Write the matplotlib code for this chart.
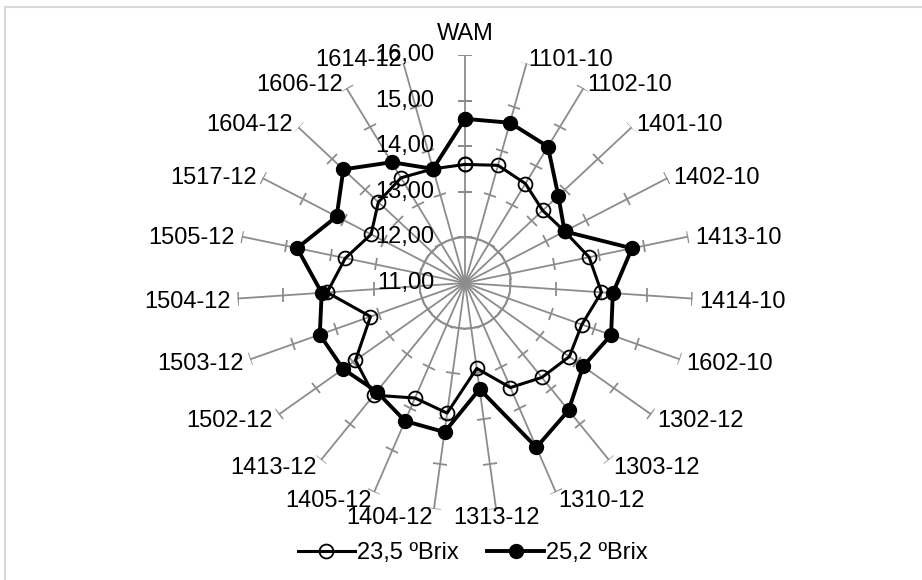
import numpy as np
import matplotlib
matplotlib.use("Agg")
import matplotlib.pyplot as plt
from matplotlib.markers import MarkerStyle
from matplotlib.transforms import Affine2D
from matplotlib.lines import Line2D

plt.rcParams['font.family'] = ['Liberation Sans', 'DejaVu Sans']

categories = ["WAM", "1101-10", "1102-10", "1401-10", "1402-10", "1413-10", "1414-10",
              "1602-10", "1302-12", "1303-12", "1310-12", "1313-12", "1404-12", "1405-12",
              "1413-12", "1502-12", "1503-12", "1504-12", "1505-12", "1517-12", "1604-12",
              "1606-12", "1614-12"]
brix_235 = [13.60, 13.68, 13.55, 13.33, 13.46, 13.78, 14.00, 13.72, 13.80, 13.67, 13.50, 12.89,
            13.88, 13.75, 14.17, 13.94, 13.20, 14.03, 13.68, 13.32, 13.60, 13.70, 13.60]
brix_252 = [14.60, 14.65, 14.50, 13.80, 13.46, 14.74, 14.25, 14.40, 14.17, 14.60, 14.93, 13.35,
            14.30, 14.30, 14.07, 14.27, 14.38, 14.15, 14.76, 14.17, 14.65, 14.10, 13.60]
r_ticks = [11, 12, 13, 14, 15, 16]
tick_labels = ["11,00", "12,00", "13,00", "14,00", "15,00", "16,00"]
series_names = ["23,5 ºBrix", "25,2 ºBrix"]

W, H = 922, 580
fig = plt.figure(figsize=(W / 100, H / 100), dpi=100)
cx, cy, R = 465, 283, 228
ax = fig.add_axes([(cx - R) / W, (H - cy - R) / H, 2 * R / W, 2 * R / H], projection='polar')
ax.set_theta_zero_location('N')
ax.set_theta_direction(-1)
ax.set_ylim(11, 16)
ax.grid(False)
ax.spines['polar'].set_visible(False)
ax.set_xticks([])
ax.set_yticks([])
ax.patch.set_alpha(0)

grey = '#8c8c8c'
fs = 17
n = len(categories)
theta = np.linspace(0, 2 * np.pi, n, endpoint=False)

# circle at 12
tt = np.linspace(0, 2 * np.pi, 300)
ax.plot(tt, np.full_like(tt, r_ticks[1]), color=grey, lw=1.3, zorder=1)

for i, th in enumerate(theta):
    ax.plot([th, th], [r_ticks[0], r_ticks[-1]], color=grey, lw=1.3, zorder=1)
    mk = MarkerStyle('_', transform=Affine2D().rotate_deg(-np.degrees(th)))
    ax.plot([th] * (len(r_ticks) - 1), r_ticks[1:], ls='none', marker=mk,
            markersize=9.5, markeredgewidth=1.3, color=grey, zorder=1)
    s, c = np.sin(th), np.cos(th)
    # rough imitation of excel's label placement
    if s > 0.15:
        ha = 'left'
    elif s < -0.1:
        ha = 'right'
    else:
        ha = 'center'
    off = (5 * s, 5 * c - 2)
    va = 'center'
    if c > 0.98:
        va = 'bottom'
        off = (0, 7)
    elif c < -0.98:
        va = 'top'
        off = (5 * s, 1)
    ax.annotate(categories[i], (th, r_ticks[-1]), xytext=off,
                textcoords='offset points', ha=ha, va=va, fontsize=fs)

for r, lab in zip(r_ticks, tick_labels):
    ax.annotate(lab, (0, r), xytext=(-22, 0), textcoords='offset points',
                ha='right', va='center', fontsize=fs)

th_c = np.append(theta, theta[0])
v1 = np.append(brix_235, brix_235[0])
v2 = np.append(brix_252, brix_252[0])
ax.plot(th_c, v1, color='black', lw=2.2, marker='o', markersize=10,
        markerfacecolor='none', markeredgewidth=1.3, zorder=3, label=series_names[0])
ax.plot(th_c, v2, color='black', lw=2.8, marker='o', markersize=10,
        markerfacecolor='black', zorder=4, label=series_names[1])

fig.legend(loc='center', bbox_to_anchor=(0.5 + 12 / W, 1 - 553 / H), ncol=2, frameon=False,
           fontsize=fs, handlelength=2.4, handletextpad=0.1, columnspacing=1.2)

# chart border (only top/left visible)
fig.add_artist(Line2D([5 / W, 5 / W], [0, 1 - 7 / H], color='#d9d9d9', lw=1.5,
                      transform=fig.transFigure))
fig.add_artist(Line2D([5 / W, 1], [1 - 7 / H, 1 - 7 / H], color='#d9d9d9', lw=1.5,
                      transform=fig.transFigure))

fig.savefig("out.png", dpi=100)
